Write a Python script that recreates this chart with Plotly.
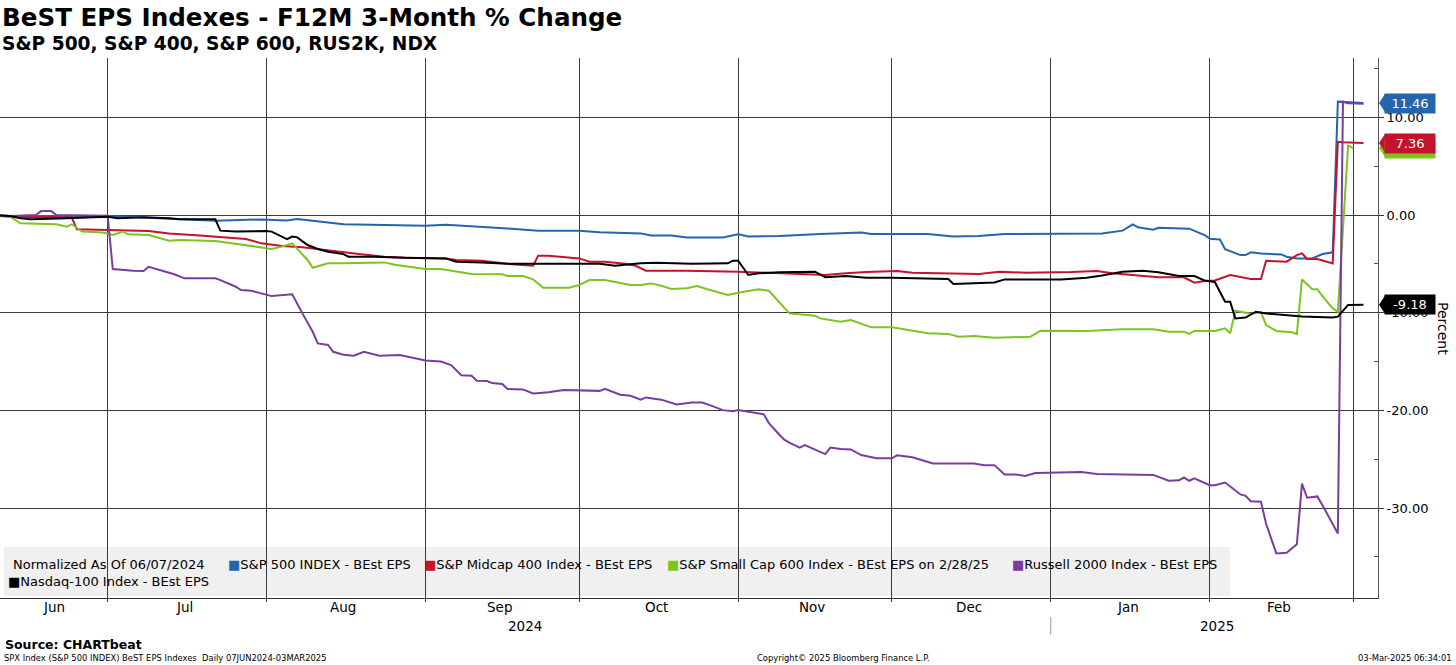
import plotly.graph_objects as go

# ---------------- data ----------------
spx_dates = ['2024-06-07', '2024-06-12', '2024-07-01', '2024-07-09', '2024-07-22', '2024-07-31', '2024-08-05', '2024-08-07', '2024-08-12', '2024-08-16',
             '2024-09-01', '2024-09-05', '2024-09-17', '2024-09-23', '2024-10-01', '2024-10-05', '2024-10-13', '2024-10-15', '2024-10-19', '2024-10-22',
             '2024-10-29', '2024-11-01', '2024-11-03', '2024-11-09', '2024-11-17', '2024-11-25', '2024-11-27', '2024-12-08', '2024-12-13', '2024-12-18',
             '2024-12-23', '2025-01-11', '2025-01-15', '2025-01-17', '2025-01-18', '2025-01-21', '2025-01-22', '2025-01-28', '2025-01-31', '2025-02-01',
             '2025-02-03', '2025-02-04', '2025-02-07', '2025-02-08', '2025-02-09', '2025-02-11', '2025-02-15', '2025-02-16', '2025-02-18', '2025-02-21',
             '2025-02-23', '2025-02-25', '2025-02-26', '2025-02-28', '2025-03-03']
spx_vals = [0, -0.1, -0.1, -0.3, -0.6, -0.45, -0.55, -0.4, -0.7, -0.95,
            -1.1, -1.0, -1.37, -1.6, -1.6, -1.77, -1.88, -2.1, -2.1, -2.29,
            -2.3, -1.98, -2.2, -2.15, -1.95, -1.8, -1.95, -1.95, -2.2, -2.15,
            -1.95, -1.88, -1.6, -0.96, -1.26, -1.5, -1.3, -1.4, -2.05, -2.42,
            -2.5, -3.5, -4.1, -4.1, -3.82, -3.95, -4.03, -4.27, -4.44, -4.44,
            -4.0, -3.82, 11.6, 11.55, 11.46]

mid_dates = ['2024-06-07', '2024-06-12', '2024-06-24', '2024-06-25', '2024-07-01', '2024-07-09', '2024-07-13', '2024-07-17', '2024-07-19', '2024-07-26',
             '2024-07-28', '2024-07-31', '2024-08-04', '2024-08-08', '2024-08-12', '2024-08-16', '2024-08-19', '2024-08-24', '2024-08-28', '2024-09-05',
             '2024-09-07', '2024-09-12', '2024-09-17', '2024-09-22', '2024-09-23', '2024-09-25', '2024-09-29', '2024-10-01', '2024-10-03', '2024-10-06',
             '2024-10-10', '2024-10-12', '2024-10-14', '2024-10-22', '2024-11-01', '2024-11-09', '2024-11-18', '2024-11-22', '2024-11-26', '2024-12-02',
             '2024-12-05', '2024-12-18', '2024-12-22', '2024-12-27', '2025-01-05', '2025-01-10', '2025-01-13', '2025-01-18', '2025-01-22', '2025-01-27',
             '2025-01-29', '2025-01-31', '2025-02-02', '2025-02-05', '2025-02-09', '2025-02-11', '2025-02-12', '2025-02-16', '2025-02-18', '2025-02-19',
             '2025-02-20', '2025-02-22', '2025-02-25', '2025-02-26', '2025-02-27', '2025-03-03']
mid_vals = [0, -0.17, -0.25, -1.47, -1.54, -1.64, -1.88, -1.98, -2.1, -2.39,
            -2.46, -2.9, -3.17, -3.3, -3.58, -3.85, -4.0, -4.27, -4.37, -4.44,
            -4.6, -4.68, -5.0, -5.2, -4.16, -4.16, -4.37, -4.44, -4.78, -4.78,
            -5.0, -5.2, -5.7, -5.7, -5.8, -5.97, -6.14, -5.97, -5.84, -5.73,
            -5.9, -6.04, -5.8, -5.9, -5.84, -5.73, -5.97, -6.2, -6.38, -6.38,
            -6.93, -6.76, -6.7, -6.14, -6.55, -6.55, -4.68, -4.78, -4.1, -3.92,
            -4.5, -4.5, -4.95, 7.5, 7.45, 7.36]

sml_dates = ['2024-06-07', '2024-06-12', '2024-06-14', '2024-06-19', '2024-06-21', '2024-06-23', '2024-06-24', '2024-06-26', '2024-06-30', '2024-07-02',
             '2024-07-04', '2024-07-05', '2024-07-09', '2024-07-13', '2024-07-15', '2024-07-22', '2024-07-27', '2024-07-30', '2024-08-02', '2024-08-04',
             '2024-08-06', '2024-08-09', '2024-08-10', '2024-08-13', '2024-08-16', '2024-08-21', '2024-08-24', '2024-08-26', '2024-09-01', '2024-09-04',
             '2024-09-07', '2024-09-10', '2024-09-16', '2024-09-17', '2024-09-20', '2024-09-22', '2024-09-24', '2024-09-29', '2024-10-01', '2024-10-03',
             '2024-10-06', '2024-10-11', '2024-10-13', '2024-10-15', '2024-10-17', '2024-10-19', '2024-10-22', '2024-10-24', '2024-10-26', '2024-10-30',
             '2024-11-01', '2024-11-05', '2024-11-07', '2024-11-11', '2024-11-16', '2024-11-17', '2024-11-21', '2024-11-23', '2024-11-27', '2024-12-01',
             '2024-12-08', '2024-12-12', '2024-12-14', '2024-12-17', '2024-12-21', '2024-12-28', '2024-12-30', '2025-01-08', '2025-01-15', '2025-01-21',
             '2025-01-24', '2025-01-27', '2025-01-28', '2025-01-29', '2025-02-02', '2025-02-04', '2025-02-05', '2025-02-06', '2025-02-09', '2025-02-11',
             '2025-02-12', '2025-02-14', '2025-02-17', '2025-02-18', '2025-02-19', '2025-02-21', '2025-02-22', '2025-02-23', '2025-02-25', '2025-02-26',
             '2025-02-28', '2025-03-01']
sml_vals = [0, -0.17, -0.85, -0.92, -0.95, -1.19, -0.95, -1.7, -1.8, -2.05,
            -1.7, -1.98, -2.05, -2.63, -2.56, -2.66, -3.07, -3.24, -3.48, -3.24,
            -2.9, -4.6, -5.4, -4.95, -4.95, -4.88, -4.85, -5.1, -5.53, -5.53,
            -5.8, -6.04, -6.07, -6.25, -6.25, -6.59, -7.44, -7.44, -7.17, -6.66,
            -6.66, -7.17, -7.17, -7.0, -7.24, -7.58, -7.5, -7.27, -7.6, -8.19,
            -7.95, -7.6, -7.75, -10.07, -10.3, -10.58, -10.92, -10.75, -11.5, -11.5,
            -12.1, -12.17, -12.46, -12.39, -12.56, -12.46, -11.84, -11.87, -11.7, -11.7,
            -11.94, -11.94, -12.17, -11.87, -11.87, -11.6, -12.1, -9.8, -10.1, -9.95,
            -11.26, -11.87, -12.0, -12.2, -6.6, -7.6, -7.6, -8.3, -9.56, -9.9,
            7.1, 6.85]

rut_dates = ['2024-06-07', '2024-06-12', '2024-06-17', '2024-06-18', '2024-06-20', '2024-06-21', '2024-07-01', '2024-07-02', '2024-07-06', '2024-07-08',
             '2024-07-09', '2024-07-11', '2024-07-14', '2024-07-16', '2024-07-22', '2024-07-23', '2024-07-26', '2024-07-27', '2024-07-29', '2024-08-02',
             '2024-08-06', '2024-08-08', '2024-08-10', '2024-08-11', '2024-08-13', '2024-08-14', '2024-08-16', '2024-08-18', '2024-08-20', '2024-08-23',
             '2024-08-27', '2024-09-01', '2024-09-04', '2024-09-06', '2024-09-08', '2024-09-10', '2024-09-11', '2024-09-13', '2024-09-14', '2024-09-16',
             '2024-09-17', '2024-09-20', '2024-09-22', '2024-09-25', '2024-09-28', '2024-10-05', '2024-10-06', '2024-10-09', '2024-10-11', '2024-10-13',
             '2024-10-14', '2024-10-17', '2024-10-20', '2024-10-23', '2024-10-25', '2024-10-27', '2024-10-29', '2024-10-31', '2024-11-01', '2024-11-06',
             '2024-11-07', '2024-11-09', '2024-11-10', '2024-11-11', '2024-11-13', '2024-11-14', '2024-11-17', '2024-11-18', '2024-11-19', '2024-11-21',
             '2024-11-23', '2024-11-25', '2024-11-28', '2024-12-01', '2024-12-02', '2024-12-05', '2024-12-09', '2024-12-17', '2024-12-19', '2024-12-21',
             '2024-12-23', '2024-12-25', '2024-12-27', '2024-12-29', '2025-01-07', '2025-01-10', '2025-01-21', '2025-01-24', '2025-01-26', '2025-01-27',
             '2025-01-28', '2025-01-29', '2025-02-01', '2025-02-02', '2025-02-04', '2025-02-07', '2025-02-08', '2025-02-09', '2025-02-11', '2025-02-12',
             '2025-02-14', '2025-02-16', '2025-02-18', '2025-02-19', '2025-02-20', '2025-02-22', '2025-02-23', '2025-02-25', '2025-02-26', '2025-02-27',
             '2025-02-28', '2025-03-03']
rut_vals = [0, -0.1, 0, 0.4, 0.4, 0, -0.07, -5.53, -5.7, -5.73,
            -5.3, -5.63, -6.07, -6.48, -6.48, -6.66, -7.34, -7.68, -7.75, -8.3,
            -8.12, -10.07, -11.95, -13.14, -13.3, -14.0, -14.3, -14.4, -14.0, -14.4,
            -14.33, -14.9, -15.0, -15.36, -16.4, -16.45, -16.96, -17.0, -17.2, -17.3,
            -17.8, -17.85, -18.26, -18.15, -17.9, -18.0, -17.8, -18.4, -18.5, -18.9,
            -18.67, -18.9, -19.4, -19.2, -19.2, -19.56, -19.97, -20.08, -19.97, -20.4,
            -21.3, -22.46, -23.0, -23.3, -23.8, -23.55, -24.3, -24.47, -23.8, -23.96,
            -24.0, -24.57, -24.9, -24.9, -24.6, -24.8, -25.43, -25.43, -25.6, -25.6,
            -26.55, -26.55, -26.7, -26.4, -26.3, -26.5, -26.6, -27.2, -27.15, -26.87,
            -27.2, -26.95, -27.65, -27.65, -27.38, -28.6, -28.74, -29.3, -29.35, -31.6,
            -34.64, -34.57, -33.7, -27.5, -28.94, -28.8, -29.7, -31.6, -32.6, 11.6,
            11.45, 11.4]

ndx_dates = ['2024-06-07', '2024-06-12', '2024-06-14', '2024-06-16', '2024-06-23', '2024-07-01', '2024-07-03', '2024-07-08', '2024-07-13', '2024-07-15',
             '2024-07-22', '2024-07-23', '2024-07-26', '2024-07-29', '2024-08-01', '2024-08-02', '2024-08-05', '2024-08-06', '2024-08-07', '2024-08-09',
             '2024-08-11', '2024-08-13', '2024-08-16', '2024-08-17', '2024-08-22', '2024-08-28', '2024-09-05', '2024-09-07', '2024-09-12', '2024-09-17',
             '2024-10-05', '2024-10-08', '2024-10-13', '2024-10-16', '2024-10-19', '2024-10-23', '2024-10-30', '2024-10-31', '2024-11-01', '2024-11-03',
             '2024-11-05', '2024-11-09', '2024-11-16', '2024-11-18', '2024-11-22', '2024-11-26', '2024-12-01', '2024-12-12', '2024-12-13', '2024-12-18',
             '2024-12-21', '2024-12-23', '2025-01-03', '2025-01-08', '2025-01-11', '2025-01-15', '2025-01-19', '2025-01-22', '2025-01-26', '2025-01-29',
             '2025-01-31', '2025-02-02', '2025-02-04', '2025-02-05', '2025-02-06', '2025-02-08', '2025-02-10', '2025-02-12', '2025-02-16', '2025-02-19',
             '2025-02-25', '2025-02-26', '2025-02-28', '2025-03-03']
ndx_vals = [0, -0.1, -0.34, -0.44, -0.34, -0.17, -0.34, -0.24, -0.34, -0.44,
            -0.44, -1.6, -1.7, -1.64, -1.64, -1.7, -2.46, -2.2, -2.29, -3.07,
            -3.48, -3.75, -4.0, -4.27, -4.27, -4.37, -4.44, -4.78, -4.85, -5.0,
            -5.0, -5.2, -4.95, -4.88, -4.95, -5.0, -4.95, -4.68, -4.68, -6.14,
            -5.97, -5.87, -5.8, -6.38, -6.25, -6.42, -6.42, -6.55, -7.06, -7.0,
            -6.9, -6.59, -6.59, -6.42, -6.2, -5.8, -5.7, -5.87, -6.25, -6.25,
            -6.7, -6.86, -8.87, -8.87, -10.58, -10.5, -9.9, -10.07, -10.24, -10.4,
            -10.5, -10.4, -9.2, -9.18]

series_names = ['S&P 500 INDEX - BEst EPS', 'S&P Midcap 400 Index - BEst EPS',
                'S&P Small Cap 600 Index - BEst EPS on 2/28/25', 'Russell 2000 Index - BEst EPS',
                'Nasdaq-100 Index - BEst EPS']
series_colors = ['#2565ad', '#c5122d', '#7cc520', '#7a3d9e', '#000000']

y_tick_vals = [-30, -20, -10, 0, 10]
y_tick_text = ['-30.00', '-20.00', '-10.00', '0.00', '10.00']

month_labels = ['Jun', 'Jul', 'Aug', 'Sep', 'Oct', 'Nov', 'Dec', 'Jan', 'Feb']
month_label_dates = ['2024-06-20 12:00', '2024-07-16', '2024-08-16', '2024-09-15 12:00', '2024-10-16',
                     '2024-11-15 12:00', '2024-12-16', '2025-01-16', '2025-02-14 12:00']
year_labels = ['2024', '2025']
year_label_dates = ['2024-09-20 12:00', '2025-02-02 10:00']
year_break_date = '2025-01-01'

x_range = ['2024-06-10', '2025-03-05 20:00']
y_range = [-39.2, 16.07]

legend_note = 'Normalized As Of 06/07/2024'

# ---------------- layout geometry ----------------
W, H = 1456, 665
ML, MR, MT, MB = 0, 78, 58, 67
PW, PH = W - ML - MR, H - MT - MB
FONT = 'DejaVu Sans'


def px(x):
    return (x - ML) / PW


def py(y):
    return (H - MB - y) / PH


fig = go.Figure()
all_series = [(spx_dates, spx_vals), (mid_dates, mid_vals), (sml_dates, sml_vals),
              (rut_dates, rut_vals), (ndx_dates, ndx_vals)]
for (d, v), name, col in zip(all_series, series_names, series_colors):
    fig.add_trace(go.Scatter(x=d, y=v, mode='lines', name=name,
                             line=dict(color=col, width=2), hoverinfo='skip'))

ann = []
shapes = []

# legend box (behind gridlines)
shapes.append(dict(type='rect', xref='paper', yref='paper', x0=px(4), x1=px(1230),
                   y0=py(596), y1=py(547), fillcolor='#f0f0f0', line=dict(width=0), layer='below'))


def text(x, y, s, size, anchor='left', color='black', bold=False, yanchor='middle', angle=0):
    if bold:
        s = '<b>' + s + '</b>'
    ann.append(dict(x=px(x), y=py(y), xref='paper', yref='paper', text=s, showarrow=False,
                    xanchor=anchor, yanchor=yanchor, textangle=angle,
                    font=dict(family=FONT, size=size, color=color)))


# titles
text(0, 18, 'BeST EPS Indexes - F12M 3-Month % Change', 24.6, bold=True)
text(0, 43, 'S&P 500, S&P 400, S&P 600, RUS2K, NDX', 18.6, bold=True)

# legend entries
leg_y1, leg_y2 = 564, 581
text(11, leg_y1, legend_note, 13)
leg_pos = [(226, leg_y1), (422, leg_y1), (665, leg_y1), (1010, leg_y1), (6, leg_y2)]
for (lx, ly), name, col in zip(leg_pos, series_names, series_colors):
    text(lx, ly, '<span style="color:%s">■</span>%s' % (col, name), 13)

# month and year labels on the date axis
for lab, d in zip(month_labels, month_label_dates):
    ann.append(dict(x=d, xref='x', y=py(607), yref='paper', text=lab, showarrow=False,
                    xanchor='center', yanchor='middle', font=dict(family=FONT, size=13.5, color='black')))
for lab, d in zip(year_labels, year_label_dates):
    ann.append(dict(x=d, xref='x', y=py(626), yref='paper', text=lab, showarrow=False,
                    xanchor='center', yanchor='middle', font=dict(family=FONT, size=13.5, color='black')))
shapes.append(dict(type='line', xref='x', yref='paper', x0=year_break_date, x1=year_break_date,
                   y0=py(617), y1=py(635), line=dict(color='#999999', width=1)))

# axis title
text(1443, 328, 'Percent', 14, anchor='center', angle=90)

# footer
text(3, 644, 'Source: CHARTbeat', 12.5, bold=True)
text(2, 658, 'SPX Index (S&P 500 INDEX) BeST EPS Indexes  Daily 07JUN2024-03MAR2025', 8.4)
text(843, 658, 'Copyright© 2025 Bloomberg Finance L.P.', 8.4, anchor='center')
text(1454, 658, '03-Mar-2025 06:34:01', 8.4, anchor='right')

# last-value tags on the right axis (green, blue, red, black order so red covers green)
tag_order = [2, 0, 1, 4]
for i in tag_order:
    v = all_series[i][1][-1]
    col = series_colors[i]
    shapes.append(dict(type='path', xref='paper', yref='y', xsizemode='pixel', ysizemode='pixel',
                       xanchor=1, yanchor=v, path='M1,0 L7,9 L7,-9 Z', fillcolor=col,
                       line=dict(width=0), layer='above'))
    ann.append(dict(x=1, xref='paper', y=v, yref='y', xanchor='left', yanchor='middle', xshift=6,
                    text='%.2f' % v, showarrow=False, bgcolor=col, width=48, height=17,
                    borderpad=1, align='center', font=dict(family=FONT, size=13, color='white')))

fig.update_layout(
    width=W, height=H, margin=dict(l=ML, r=MR, t=MT, b=MB, pad=0),
    paper_bgcolor='white', plot_bgcolor='rgba(0,0,0,0)', showlegend=False,
    annotations=ann, shapes=shapes,
    xaxis=dict(type='date', range=x_range, dtick='M1', tick0='2024-07-01', showticklabels=False,
               ticks='outside', ticklen=3, tickcolor='#333333', showgrid=True, gridcolor='#3a3a3a',
               gridwidth=1, showline=True, linecolor='#333333', linewidth=1, zeroline=False),
    yaxis=dict(side='right', range=y_range, tickvals=y_tick_vals, ticktext=y_tick_text,
               ticks='outside', ticklen=5, tickcolor='#333333', showgrid=True, gridcolor='#3a3a3a',
               gridwidth=1, showline=True, linecolor='#555555', linewidth=1, zeroline=False,
               tickfont=dict(family=FONT, size=13, color='black'),
               minor=dict(tickvals=[-35, -25, -15, -5, 5, 15], ticks='inside', ticklen=4,
                          tickcolor='#555555', showgrid=False)),
)

fig.write_html('out.html', config={'displayModeBar': False},
               post_script="document.body.style.margin='0px';")
